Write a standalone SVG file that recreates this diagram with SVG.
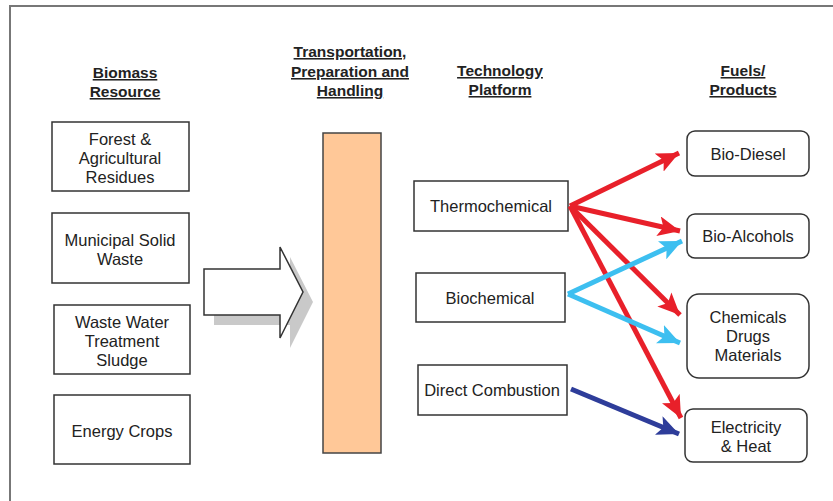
<svg xmlns="http://www.w3.org/2000/svg" width="833" height="501" viewBox="0 0 833 501">
<style>
.box{fill:#fff;stroke:#333;stroke-width:1.5}
.t{font-family:"Liberation Sans",Arial,sans-serif;font-size:16.5px;fill:#222;text-anchor:middle}
.h{font-family:"Liberation Sans",Arial,sans-serif;font-size:15.5px;font-weight:bold;fill:#222;text-anchor:middle;text-decoration:underline}
.red{stroke:#e8202a;stroke-width:5;fill:none;marker-end:url(#mr)}
.cyan{stroke:#3dbff0;stroke-width:5;fill:none;marker-end:url(#mc)}
.navy{stroke:#2e3d9a;stroke-width:5;fill:none;marker-end:url(#mn)}
</style>
<defs>
<marker id="mr" markerUnits="userSpaceOnUse" markerWidth="24" markerHeight="20" refX="22" refY="10" orient="auto"><path d="M0,0 L22,10 L0,20 L5,10 Z" fill="#e8202a"/></marker>
<marker id="mc" markerUnits="userSpaceOnUse" markerWidth="24" markerHeight="20" refX="22" refY="10" orient="auto"><path d="M0,0 L22,10 L0,20 L5,10 Z" fill="#3dbff0"/></marker>
<marker id="mn" markerUnits="userSpaceOnUse" markerWidth="24" markerHeight="20" refX="22" refY="10" orient="auto"><path d="M0,0 L22,10 L0,20 L5,10 Z" fill="#2e3d9a"/></marker>
</defs>
<rect width="833" height="501" fill="#fff"/>
<path d="M10,501 L10,6 L833,6" fill="none" stroke="#777" stroke-width="2"/>

<g id="headers">
<text class="h" x="125" y="78">Biomass</text>
<text class="h" x="125" y="97">Resource</text>
<text class="h" x="350" y="57">Transportation,</text>
<text class="h" x="350" y="77">Preparation and</text>
<text class="h" x="350" y="96">Handling</text>
<text class="h" x="500" y="76">Technology</text>
<text class="h" x="500" y="95">Platform</text>
<text class="h" x="743" y="76">Fuels/</text>
<text class="h" x="743" y="95">Products</text>
</g>

<g id="forest"><rect class="box" x="52" y="122" width="137" height="69"/><text class="t" x="120" y="145">Forest &amp;</text><text class="t" x="120" y="164">Agricultural</text><text class="t" x="120" y="183">Residues</text></g>
<g id="msw"><rect class="box" x="52" y="213" width="137" height="70"/><text class="t" x="120" y="246">Municipal Solid</text><text class="t" x="120" y="265">Waste</text></g>
<g id="sludge"><rect class="box" x="54" y="305" width="136" height="69"/><text class="t" x="122" y="328">Waste Water</text><text class="t" x="122" y="347">Treatment</text><text class="t" x="122" y="366">Sludge</text></g>
<g id="crops"><rect class="box" x="54" y="395" width="136" height="69"/><text class="t" x="122" y="437">Energy Crops</text></g>

<g id="bigarrow">
<path d="M214,279 L290,279 L290,257 L313,302 L290,348 L290,325 L214,325 Z" fill="#bbb" opacity="0.8"/>
<path d="M204,269 L280,269 L280,247 L303,292 L280,338 L280,315 L204,315 Z" fill="#fff" stroke="#333" stroke-width="1.5"/>
</g>

<g id="transport"><rect x="323" y="133" width="58" height="320" fill="#ffc898" stroke="#444" stroke-width="1.5"/></g>

<g id="thermo"><rect class="box" x="414" y="181" width="154" height="50"/><text class="t" x="491" y="212">Thermochemical</text></g>
<g id="bio"><rect class="box" x="416" y="273" width="149" height="49"/><text class="t" x="490" y="304">Biochemical</text></g>
<g id="direct"><rect class="box" x="418" y="365" width="149" height="50"/><text class="t" x="492" y="396">Direct Combustion</text></g>

<g id="diesel"><rect class="box" x="687" y="131" width="122" height="45" rx="8"/><text class="t" x="748" y="160">Bio-Diesel</text></g>
<g id="alcohols"><rect class="box" x="687" y="214" width="122" height="44" rx="8"/><text class="t" x="748" y="242">Bio-Alcohols</text></g>
<g id="chem"><rect class="box" x="687" y="294" width="122" height="84" rx="12"/><text class="t" x="748" y="323">Chemicals</text><text class="t" x="748" y="342">Drugs</text><text class="t" x="748" y="361">Materials</text></g>
<g id="elec"><rect class="box" x="685" y="409" width="122" height="53" rx="8"/><text class="t" x="746" y="433">Electricity</text><text class="t" x="746" y="452">&amp; Heat</text></g>

<g id="connectors">
<line class="red" x1="570" y1="206" x2="679" y2="153"/>
<line class="red" x1="570" y1="206" x2="680" y2="231"/>
<line class="red" x1="570" y1="206" x2="680" y2="315"/>
<line class="red" x1="570" y1="206" x2="681" y2="418"/>
<line class="cyan" x1="568" y1="294" x2="682" y2="241"/>
<line class="cyan" x1="568" y1="294" x2="680" y2="343"/>
<line class="navy" x1="571" y1="389" x2="679" y2="434"/>
</g>
</svg>
